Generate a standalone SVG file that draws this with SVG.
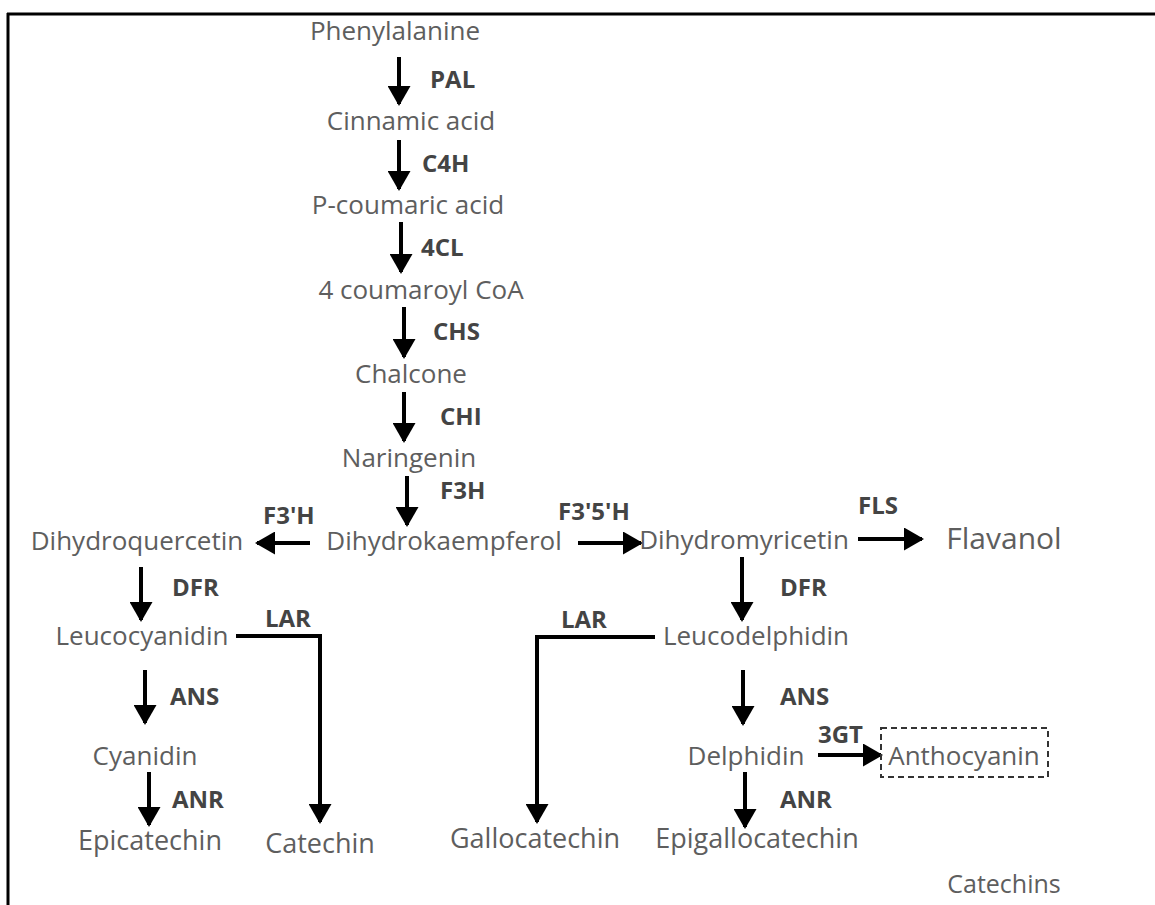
<svg xmlns="http://www.w3.org/2000/svg" width="1155" height="905" viewBox="0 0 1155 905">
<style>
.n{font-family:"Open Sans","Liberation Sans",sans-serif;font-size:26px;fill:#5e5e5e;text-anchor:middle}
.big{font-size:27px}
.fl{font-size:30px}
.sm{font-size:25px}
.e{font-family:"Open Sans","Liberation Sans",sans-serif;font-size:24px;font-weight:bold;fill:#444}
.c{stroke:#000;stroke-width:4;fill:none}
</style>
<defs>
<marker id="ah" markerUnits="userSpaceOnUse" viewBox="0 0 20 23" refX="18" refY="11.5" markerWidth="20" markerHeight="23" orient="auto">
<path d="M0,0 L20,11.5 L0,23 Z" fill="#000"/>
</marker>
</defs>
<rect width="1155" height="905" fill="#fff"/>
<g id="frame">
<line x1="7" y1="14" x2="1155" y2="14" stroke="#000" stroke-width="3"/>
<line x1="8" y1="13" x2="8" y2="905" stroke="#000" stroke-width="3"/>
</g>
<g id="connectors">
<line class="c" x1="399" y1="57" x2="399" y2="104" marker-end="url(#ah)"/>
<line class="c" x1="399" y1="140" x2="399" y2="189" marker-end="url(#ah)"/>
<line class="c" x1="401" y1="222" x2="401" y2="272" marker-end="url(#ah)"/>
<line class="c" x1="404" y1="307" x2="404" y2="357" marker-end="url(#ah)"/>
<line class="c" x1="404" y1="392" x2="404" y2="441" marker-end="url(#ah)"/>
<line class="c" x1="407" y1="476" x2="407" y2="525" marker-end="url(#ah)"/>
<line class="c" x1="310" y1="543" x2="257" y2="543" marker-end="url(#ah)"/>
<line class="c" x1="578" y1="543" x2="641" y2="543" marker-end="url(#ah)"/>
<line class="c" x1="858" y1="539" x2="922" y2="539" marker-end="url(#ah)"/>
<line class="c" x1="141" y1="567" x2="141" y2="620" marker-end="url(#ah)"/>
<line class="c" x1="145" y1="670" x2="145" y2="723" marker-end="url(#ah)"/>
<line class="c" x1="149" y1="772" x2="149" y2="825" marker-end="url(#ah)"/>
<line class="c" x1="742" y1="557" x2="742" y2="620" marker-end="url(#ah)"/>
<line class="c" x1="743" y1="670" x2="743" y2="724" marker-end="url(#ah)"/>
<line class="c" x1="745" y1="772" x2="745" y2="827" marker-end="url(#ah)"/>
<line class="c" x1="818" y1="755" x2="881" y2="755" marker-end="url(#ah)"/>
<polyline class="c" points="236,636 320,636 320,822" marker-end="url(#ah)"/>
<polyline class="c" points="655,637 537,637 537,822" marker-end="url(#ah)"/>
</g>
<g id="enzymes">
<text class="e" x="430" y="88">PAL</text>
<text class="e" x="422" y="172">C4H</text>
<text class="e" x="421" y="256">4CL</text>
<text class="e" x="433" y="340">CHS</text>
<text class="e" x="440" y="425">CHI</text>
<text class="e" x="440" y="499">F3H</text>
<text class="e" x="263" y="524">F3'H</text>
<text class="e" x="558" y="520">F3'5'H</text>
<text class="e" x="858" y="514">FLS</text>
<text class="e" x="172" y="596">DFR</text>
<text class="e" x="265" y="627">LAR</text>
<text class="e" x="170" y="705">ANS</text>
<text class="e" x="172" y="808">ANR</text>
<text class="e" x="561" y="628">LAR</text>
<text class="e" x="780" y="596">DFR</text>
<text class="e" x="780" y="705">ANS</text>
<text class="e" x="818" y="743">3GT</text>
<text class="e" x="780" y="808">ANR</text>
</g>
<g id="phenylalanine"><text class="n" x="395" y="40">Phenylalanine</text></g>
<g id="cinnamic"><text class="n" x="411" y="130">Cinnamic acid</text></g>
<g id="pcoumaric"><text class="n" x="408" y="214">P-coumaric acid</text></g>
<g id="coumaroyl"><text class="n" x="421" y="299">4 coumaroyl CoA</text></g>
<g id="chalcone"><text class="n" x="411" y="383">Chalcone</text></g>
<g id="naringenin"><text class="n" x="409" y="467">Naringenin</text></g>
<g id="dihydroquercetin"><text class="n" x="137" y="550">Dihydroquercetin</text></g>
<g id="dihydrokaempferol"><text class="n" x="444" y="550">Dihydrokaempferol</text></g>
<g id="dihydromyricetin"><text class="n" x="744" y="549">Dihydromyricetin</text></g>
<g id="flavanol"><text class="n fl" x="1004" y="549">Flavanol</text></g>
<g id="leucocyanidin"><text class="n" x="142" y="645">Leucocyanidin</text></g>
<g id="leucodelphidin"><text class="n" x="756" y="645">Leucodelphidin</text></g>
<g id="cyanidin"><text class="n" x="145" y="765">Cyanidin</text></g>
<g id="delphidin"><text class="n" x="746" y="765">Delphidin</text></g>
<g id="anthocyanin">
<rect x="881" y="728" width="167" height="49" fill="none" stroke="#333" stroke-width="2" stroke-dasharray="6,4"/>
<text class="n" x="964" y="765">Anthocyanin</text>
</g>
<g id="epicatechin"><text class="n big" x="150" y="850">Epicatechin</text></g>
<g id="catechin"><text class="n big" x="320" y="853">Catechin</text></g>
<g id="gallocatechin"><text class="n big" x="535" y="848">Gallocatechin</text></g>
<g id="epigallocatechin"><text class="n big" x="757" y="848">Epigallocatechin</text></g>
<g id="catechins"><text class="n sm" x="1004" y="893">Catechins</text></g>
</svg>
